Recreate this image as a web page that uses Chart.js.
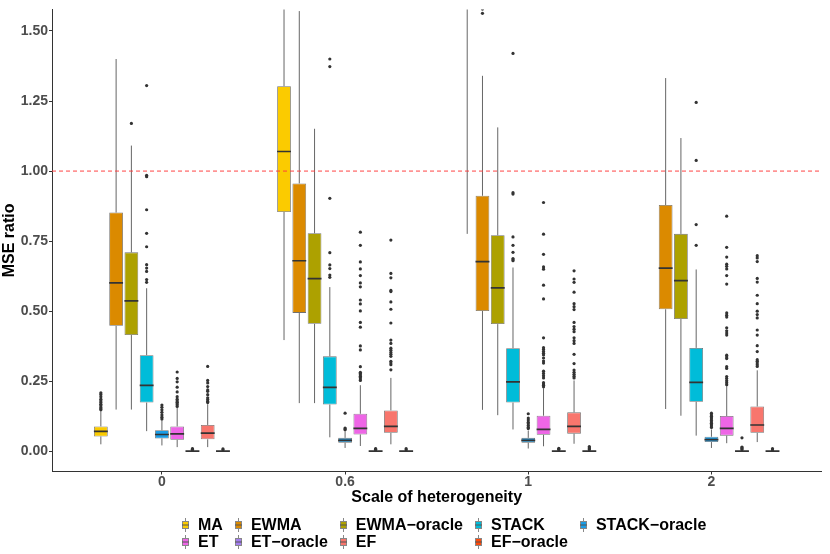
<!DOCTYPE html>
<html>
<head>
<meta charset="utf-8">
<script src="https://cdn.jsdelivr.net/npm/chart.js@4.4.0/dist/chart.umd.min.js"></script>
<style>
  html, body { margin: 0; padding: 0; background: #fff; }
  #wrap { position: relative; width: 830px; height: 554px; }
  #legend {
    position: absolute; left: 182px; top: 517px;
    display: grid; grid-template-columns: repeat(5, auto); column-gap: 12px;
    font: bold 16px "Liberation Sans", Arial, sans-serif; line-height: 16.5px; color: #000;
  }
  .item { display: flex; align-items: center; white-space: nowrap; }
  .item canvas { margin-right: 9px; }
</style>
</head>
<body>
<div id="wrap">
  <canvas id="chart" width="830" height="554"></canvas>
  <div id="legend"></div>
</div>
<script>
const groups = ['0', '0.6', '1', '2'];
const seriesNames = ['MA', 'EWMA', 'EWMA−oracle', 'STACK', 'STACK−oracle', 'ET', 'ET−oracle', 'EF', 'EF−oracle'];
const yTicks = [0, 0.25, 0.5, 0.75, 1, 1.25, 1.5];
const refValue = 1;

// one row per group: [lower whisker, q1, median, q3, upper whisker]
const statsMA = [
  [0.025, 0.053, 0.071, 0.089, 0.143],
  [0.397, 0.854, 1.070, 1.303, 1.640],
  [0.776, 1.620, 1.880, 2.250, 3.100],
  [1.610, 1.950, 2.300, 2.700, 3.600]
];
const statsEWMA = [
  [0.149, 0.448, 0.601, 0.852, 1.400],
  [0.172, 0.494, 0.680, 0.956, 1.571],
  [0.148, 0.501, 0.677, 0.912, 1.340],
  [0.151, 0.507, 0.654, 0.879, 1.332]
];
const statsEWMAo = [
  [0.149, 0.415, 0.537, 0.710, 1.091],
  [0.172, 0.455, 0.616, 0.778, 1.151],
  [0.129, 0.454, 0.583, 0.771, 1.156],
  [0.127, 0.472, 0.609, 0.776, 1.118]
];
const statsSTACK = [
  [0.072, 0.174, 0.235, 0.343, 0.582],
  [0.050, 0.167, 0.228, 0.339, 0.586],
  [0.078, 0.174, 0.248, 0.368, 0.656],
  [0.056, 0.177, 0.246, 0.369, 0.649]
];
const statsSTACKo = [
  [0.021, 0.046, 0.060, 0.075, 0.110],
  [0.012, 0.031, 0.039, 0.048, 0.072],
  [0.010, 0.031, 0.039, 0.048, 0.074],
  [0.012, 0.033, 0.042, 0.052, 0.078]
];
const statsET = [
  [0.015, 0.041, 0.062, 0.089, 0.156],
  [0.019, 0.060, 0.082, 0.134, 0.236],
  [0.018, 0.059, 0.078, 0.127, 0.225],
  [0.029, 0.056, 0.082, 0.126, 0.233]
];
const statsETo = [
  [0, 0.0004, 0.001, 0.0018, 0.0035],
  [0, 0.0004, 0.001, 0.0018, 0.0035],
  [0, 0.0004, 0.001, 0.0018, 0.0035],
  [0, 0.0004, 0.001, 0.0018, 0.0035]
];
const statsEF = [
  [0.015, 0.043, 0.065, 0.094, 0.168],
  [0.025, 0.066, 0.089, 0.146, 0.262],
  [0.027, 0.063, 0.089, 0.139, 0.253],
  [0.033, 0.066, 0.094, 0.160, 0.289]
];
const statsEFo = [
  [0, 0.0004, 0.001, 0.0018, 0.0035],
  [0, 0.0004, 0.001, 0.0018, 0.0035],
  [0, 0.0004, 0.001, 0.0018, 0.0035],
  [0, 0.0004, 0.001, 0.0018, 0.0035]
];

// outliers per group
const outMA = [[0.148, 0.152, 0.156, 0.163, 0.168, 0.174, 0.180, 0.186, 0.195, 0.203, 0.209], [], [], []];
const outEWMA = [[], [], [1.563, 1.578], []];
const outEWMAo = [[1.170], [], [], []];
const outSTACK = [
  [0.603, 0.613, 0.642, 0.654, 0.666, 0.730, 0.778, 0.862, 0.980, 0.985, 1.305],
  [0.621, 0.629, 0.652, 0.665, 0.709, 0.903, 1.373, 1.400],
  [0.680, 0.684, 0.688, 0.710, 0.735, 0.765, 0.918, 0.923, 1.420],
  [0.735, 0.809, 1.038, 1.245]
];
const outSTACKo = [
  [0.115, 0.122, 0.130, 0.139, 0.148, 0.157, 0.165],
  [0.077, 0.080, 0.083, 0.136],
  [0.081, 0.086, 0.092, 0.098, 0.104, 0.112, 0.119, 0.134],
  [0.085, 0.090, 0.095, 0.100, 0.105, 0.110, 0.115, 0.120, 0.125, 0.130, 0.136]
];
const outET = [
  [0.160, 0.165, 0.170, 0.175, 0.180, 0.186, 0.195, 0.212, 0.229, 0.248, 0.260, 0.283],
  [0.253, 0.258, 0.263, 0.268, 0.273, 0.278, 0.282, 0.302, 0.362, 0.376, 0.443, 0.460, 0.501, 0.526, 0.540, 0.587, 0.601, 0.627, 0.651, 0.676, 0.735, 0.782],
  [0.230, 0.236, 0.240, 0.245, 0.262, 0.270, 0.278, 0.286, 0.315, 0.322, 0.333, 0.344, 0.350, 0.356, 0.363, 0.370, 0.405, 0.544, 0.593, 0.650, 0.658, 0.703, 0.775, 0.888],
  [0.238, 0.245, 0.252, 0.260, 0.267, 0.296, 0.302, 0.331, 0.337, 0.343, 0.415, 0.422, 0.430, 0.441, 0.479, 0.486, 0.494, 0.597, 0.627, 0.651, 0.660, 0.668, 0.693, 0.728, 0.839]
];
const outETo = [[0.005, 0.0075, 0.0095], [0.005, 0.0075, 0.0095], [0.006, 0.008, 0.0105], [0.006, 0.009, 0.013, 0.015, 0.048]];
const outEF = [
  [0.174, 0.179, 0.185, 0.191, 0.202, 0.214, 0.219, 0.231, 0.244, 0.253, 0.303],
  [0.291, 0.309, 0.315, 0.321, 0.339, 0.346, 0.353, 0.361, 0.368, 0.385, 0.397, 0.458, 0.507, 0.533, 0.570, 0.574, 0.619, 0.635, 0.754],
  [0.262, 0.268, 0.275, 0.282, 0.290, 0.313, 0.346, 0.385, 0.395, 0.405, 0.427, 0.436, 0.445, 0.460, 0.506, 0.516, 0.527, 0.568, 0.603, 0.615, 0.644],
  [0.303, 0.309, 0.315, 0.321, 0.327, 0.356, 0.377, 0.415, 0.433, 0.476, 0.488, 0.500, 0.527, 0.557, 0.604, 0.617, 0.677, 0.690, 0.698]
];
const outEFo = [[0.005, 0.0085], [0.005, 0.0095], [0.006, 0.0095, 0.013, 0.017], [0.005, 0.0095]];

const stats = [statsMA, statsEWMA, statsEWMAo, statsSTACK, statsSTACKo, statsET, statsETo, statsEF, statsEFo];
const outliers = [outMA, outEWMA, outEWMAo, outSTACK, outSTACKo, outET, outETo, outEF, outEFo];

// styles
const seriesColors = ['#FBCB00', '#DB8A00', '#ADA100', '#00BCD9', '#1A9DE6', '#EE66E6', '#A47EF0', '#F8766D', '#FF4A0A'];
const xMin = 0.4, xMax = 4.6;
const dodge = 1 / 12;
const xPos = (g, k) => g + 1 + (k - 4) * dodge;

const boxSets = seriesNames.map((name, k) => ({
  type: 'bar',
  label: name,
  data: stats[k].map((s, g) => ({ x: xPos(g, k), y: [s[1], s[3]] })),
  backgroundColor: seriesColors[k],
  borderColor: '#707070',
  borderWidth: 0.8,
  borderSkipped: false,
  grouped: false,
  categoryPercentage: 1,
  barPercentage: 0.9,
  clip: 0,
  order: 2
}));

const whiskerData = [];
const medianData = [];
const outlierData = [];
stats.forEach((rows, k) => rows.forEach((s, g) => {
  const x = xPos(g, k);
  whiskerData.push({ x, y: s[0] }, { x, y: s[1] }, { x, y: null }, { x, y: s[3] }, { x, y: s[4] }, { x, y: null });
  medianData.push({ x, y: s[2] });
  outliers[k][g].forEach(v => outlierData.push({ x, y: v }));
}));

const axisGrid = { display: true, offset: false, drawOnChartArea: false, drawTicks: true, tickLength: 3, color: '#333' };

new Chart(document.getElementById('chart'), {
  type: 'bar',
  data: {
    datasets: [
      {
        type: 'line', label: 'whiskers', data: whiskerData,
        borderColor: '#666', borderWidth: 1, pointRadius: 0, spanGaps: false, order: 3
      },
      ...boxSets,
      {
        type: 'scatter', label: 'medians', data: medianData,
        pointStyle: 'line', pointRadius: 6.95, borderColor: '#333', pointBorderWidth: 1.7, order: 1
      },
      {
        type: 'scatter', label: 'outliers', data: outlierData,
        pointRadius: 1.6, pointBackgroundColor: '#333', pointBorderWidth: 0, order: 1
      },
      {
        type: 'line', label: 'ref', data: [{ x: xMin, y: refValue }, { x: xMax, y: refValue }],
        borderColor: 'rgba(255, 60, 60, 0.55)', borderWidth: 1.6, borderDash: [4, 3], pointRadius: 0, order: 0
      }
    ]
  },
  options: {
    responsive: false,
    animation: false,
    events: [],
    layout: { padding: { top: 3, right: 1, left: 0, bottom: 0 } },
    plugins: { legend: { display: false }, tooltip: { enabled: false } },
    scales: {
      x: {
        type: 'linear', min: xMin, max: xMax, offset: false,
        afterBuildTicks: s => { s.ticks = groups.map((_, i) => ({ value: i + 1 })); },
        afterFit: s => { s.height = 82.5; },
        ticks: {
          callback: (v, i) => groups[i], autoSkip: false, maxRotation: 0, padding: -1,
          color: '#4D4D4D', font: { family: 'Liberation Sans', size: 14, weight: 'bold' }
        },
        grid: axisGrid,
        border: { display: true, color: '#333', width: 1 },
        title: {
          display: true, text: 'Scale of heterogeneity', color: '#000',
          font: { family: 'Liberation Sans', size: 16, weight: 'bold' },
          padding: { top: 0, bottom: 47 }
        }
      },
      y: {
        type: 'linear', min: -0.072, max: 1.577, stacked: false,
        afterBuildTicks: s => { s.ticks = yTicks.map(value => ({ value })); },
        afterFit: s => { s.width = 52; },
        ticks: {
          callback: v => v.toFixed(2), padding: 1,
          color: '#4D4D4D', font: { family: 'Liberation Sans', size: 14, weight: 'bold' }
        },
        grid: axisGrid,
        border: { display: true, color: '#333', width: 1 },
        title: {
          display: true, text: 'MSE ratio', color: '#000',
          font: { family: 'Liberation Sans', size: 16, weight: 'bold' },
          padding: 0
        }
      }
    }
  }
});

// legend in a 5-column grid like the original
function legendIcon(color) {
  const c = document.createElement('canvas');
  c.width = 7; c.height = 14;
  const g = c.getContext('2d');
  g.strokeStyle = '#888';
  g.lineWidth = 1;
  g.beginPath(); g.moveTo(3.5, 0); g.lineTo(3.5, 14); g.stroke();
  g.fillStyle = color;
  g.fillRect(0, 3, 7, 8);
  g.strokeRect(0.5, 3.5, 6, 7);
  g.strokeStyle = '#555';
  g.beginPath(); g.moveTo(0, 7); g.lineTo(7, 7); g.stroke();
  return c;
}
const legend = document.getElementById('legend');
seriesNames.forEach((name, k) => {
  const item = document.createElement('div');
  item.className = 'item';
  item.appendChild(legendIcon(seriesColors[k]));
  const t = document.createElement('span');
  t.textContent = name;
  item.appendChild(t);
  legend.appendChild(item);
});
</script>
</body>
</html>
